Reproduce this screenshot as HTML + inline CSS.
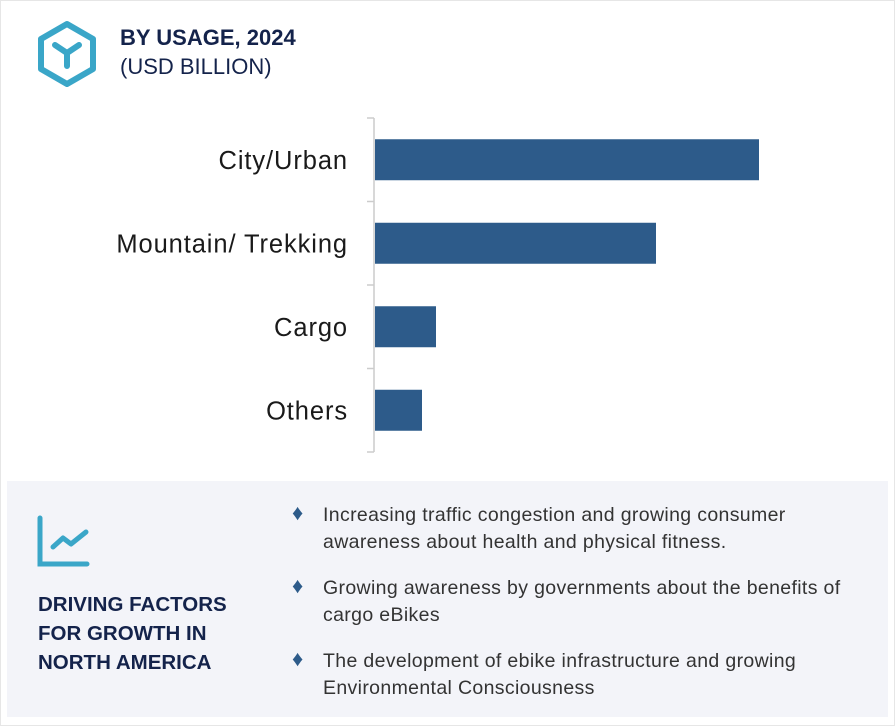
<!DOCTYPE html>
<html><head><meta charset="utf-8"><style>
body{margin:0;width:895px;height:726px;background:#fff;font-family:"Liberation Sans",sans-serif;position:relative;overflow:hidden}
.frame{position:absolute;left:0;top:0;width:893px;height:724px;border:1px solid #e6e6e6}
.t1{position:absolute;left:120px;top:25px;font-size:22px;font-weight:bold;color:#14234b}
.t2{position:absolute;left:120px;top:54px;font-size:22px;color:#14234b}
.panel{position:absolute;left:7px;top:481px;width:881px;height:236px;background:#f3f4f9}
.dt{position:absolute;left:38px;top:590px;font-size:20.5px;font-weight:bold;color:#14234b;line-height:29px}
.item{position:absolute;left:323px;font-size:19.5px;letter-spacing:0.35px;color:#333;line-height:27px}
.dia{position:absolute;left:292px;color:#2d5b8a;font-size:22px}
</style></head><body>
<div class="frame"></div>
<svg style="position:absolute;left:36px;top:20px" width="62" height="68" viewBox="0 0 62 68">
<polygon points="31,4 57,19 57,49 31,64 5,49 5,19" fill="none" stroke="#3aa6c8" stroke-width="6" stroke-linejoin="round"/>
<path d="M19,25 L31,33 L43,25 M31,33 L31,46" fill="none" stroke="#3aa6c8" stroke-width="6" stroke-linecap="round"/>
</svg>
<div class="t1">BY USAGE, 2024</div>
<div class="t2">(USD BILLION)</div>
<svg id="chart" style="position:absolute;left:0;top:0" width="895" height="470"></svg>
<div class="panel"></div>
<svg style="position:absolute;left:36px;top:514px" width="56" height="56">
<path d="M4,4 L4,50 L51,50" fill="none" stroke="#3aa6c8" stroke-width="5" stroke-linecap="round"/>
<path d="M17,33 L27,24 L35,30 L50,18" fill="none" stroke="#3aa6c8" stroke-width="5" stroke-linecap="round" stroke-linejoin="round"/>
</svg>
<div class="dt">DRIVING FACTORS<br>FOR GROWTH IN<br>NORTH AMERICA</div>
<div class="dia" style="top:500px">♦</div>
<div class="item" style="top:502px">Increasing traffic congestion and growing consumer<br>awareness about health and physical fitness.</div>
<div class="dia" style="top:573px">♦</div>
<div class="item" style="top:575px">Growing awareness by governments about the benefits of<br>cargo eBikes</div>
<div class="dia" style="top:646px">♦</div>
<div class="item" style="top:648px">The development of ebike infrastructure and growing<br>Environmental Consciousness</div>
<script>
const categories=["City/Urban","Mountain/ Trekking","Cargo","Others"];
const values=[3.84,2.81,0.61,0.47];
const svg=document.getElementById('chart');const NS='http://www.w3.org/2000/svg';
const x0=375,pxPer=100,top0=118,band=83.5,barH=41;
const xs=v=>x0+v*pxPer;
const ys=i=>top0+i*band+(band-barH)/2;
function mk(t,a){const e=document.createElementNS(NS,t);for(const k in a)e.setAttribute(k,a[k]);svg.appendChild(e);return e;}
const ax=mk('line',{x1:374,x2:374,y1:top0,y2:top0+band*4,stroke:'#ccc','stroke-width':1.5});


for(let i=0;i<=4;i++){const t=mk('line',{x1:367,x2:374,y1:top0+i*band,y2:top0+i*band,stroke:'#ccc','stroke-width':1.5});

}
categories.forEach((c,i)=>{
const r=mk('rect',{x:x0,y:ys(i),width:xs(values[i])-x0,height:barH,fill:'#2d5b8a'});


const l=mk('text',{x:348,y:ys(i)+barH/2+9,'text-anchor':'end','font-size':25.5,'letter-spacing':0.9,fill:'#1a1a1a','font-family':'Liberation Sans, sans-serif'});
l.textContent=c;


});
</script>
</body></html>
